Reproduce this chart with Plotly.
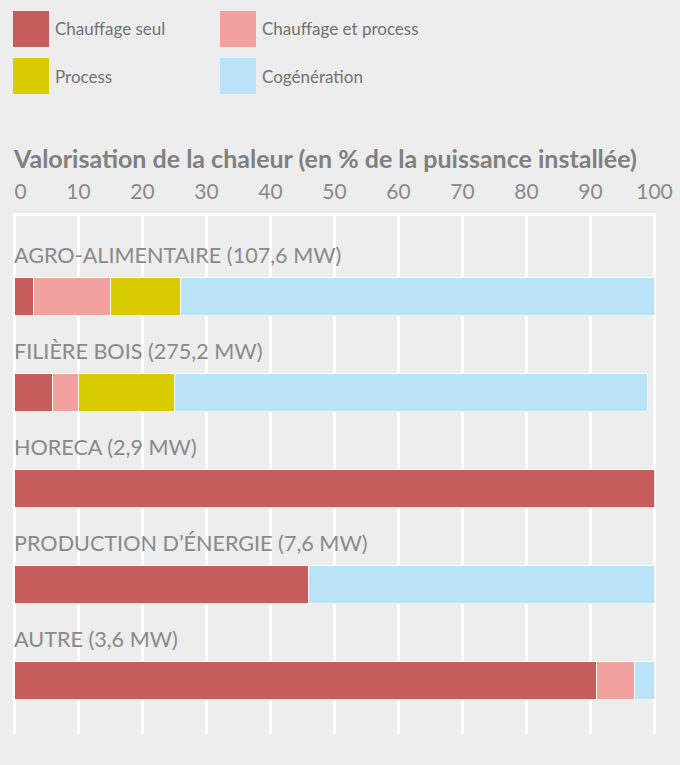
import plotly.graph_objects as go

# ---- data ----
categories = [
    "AGRO-ALIMENTAIRE (107,6 MW)",
    "FILIÈRE BOIS (275,2 MW)",
    "HORECA (2,9 MW)",
    "PRODUCTION D’ÉNERGIE (7,6 MW)",
    "AUTRE (3,6 MW)",
]
series_names = ["Chauffage seul", "Chauffage et process", "Process", "Cogénération"]
chauffage_seul = [3, 6, 100, 46, 91]
chauffage_process = [12, 4, None, None, 6]
process = [11, 15, None, None, None]
cogeneration = [74, 74, None, 54, 3]
series_values = [chauffage_seul, chauffage_process, process, cogeneration]
tick_values = [0, 10, 20, 30, 40, 50, 60, 70, 80, 90, 100]
tick_labels = ["\u20070", "10", "20", "30", "40", "50", "60", "70", "80", "90", "100"]
title_text = "Valorisation de la chaleur (en % de la puissance installée)"

# ---- style ----
colors = ["#c75c5c", "#f3a19e", "#d8cc00", "#bbe3f7"]
bg = "#ecedec"
FONT = "Lato"
W, H = 680, 765
L, R, T, B = 13, 24, 216, 31
PW, PH = W - L - R, H - T - B


def px_x(x):
    return (x - L) / PW


def px_y(y):
    return 1 - (y - T) / PH


ypos = list(range(len(categories)))

fig = go.Figure()
for name, vals, col in zip(series_names, series_values, colors):
    fig.add_trace(go.Bar(
        y=ypos, x=vals, name=name, orientation="h",
        marker=dict(color=col, line=dict(color="white", width=0.8)),
        width=0.396, showlegend=False,
    ))

# category labels above the bars
for i, cat in enumerate(categories):
    fig.add_annotation(
        x=0, y=i, xref="x", yref="y", text=cat, showarrow=False,
        xanchor="left", yanchor="middle", xshift=-3, yshift=42,
        font=dict(family=FONT, size=21.6, color="#8a8a8a"),
    )

# legend (manual, 2 columns)
leg_pos = [(13, 11), (220, 11), (13, 58), (220, 58)]
for (lx, ly), name, col in zip(leg_pos, series_names, colors):
    fig.add_shape(type="rect", xref="paper", yref="paper",
                  x0=px_x(lx), x1=px_x(lx + 36), y0=px_y(ly + 36), y1=px_y(ly),
                  fillcolor=col, line=dict(width=0))
    fig.add_annotation(x=px_x(lx + 40), y=px_y(ly + 18), xref="paper", yref="paper",
                       text=name, showarrow=False, xanchor="left", yanchor="middle",
                       font=dict(family=FONT, size=17, color="#727272"))

# title
fig.add_annotation(x=px_x(11), y=px_y(158), xref="paper", yref="paper",
                   text="<b>" + title_text + "</b>", showarrow=False,
                   xanchor="left", yanchor="middle",
                   font=dict(family=FONT, size=25, color="#808080"))

lo = -0.84375
pad = 1.5 / 6.4
fig.update_layout(
    width=W, height=H, barmode="stack",
    margin=dict(l=L, r=R, t=T, b=B, pad=0, autoexpand=False),
    paper_bgcolor=bg, plot_bgcolor=bg,
    bargap=0,
    xaxis=dict(range=[-pad, 100 + pad], side="top", tickvals=tick_values, ticktext=tick_labels,
               showgrid=True, gridcolor="white", gridwidth=2.5, zeroline=False,
               showline=True, linecolor="white", linewidth=2.5,
               ticks="", ticklabelstandoff=6, automargin=False,
               tickfont=dict(family=FONT, size=21, color="#8a8a8a"), fixedrange=True),
    yaxis=dict(range=[lo + PH / 96, lo], showgrid=False, zeroline=False,
               showticklabels=False, showline=False, fixedrange=True, automargin=False),
    font=dict(family=FONT),
)

fig.write_html("out.html", config={"displayModeBar": False},
               post_script="document.body.style.margin='0px';document.body.style.overflow='hidden';")
